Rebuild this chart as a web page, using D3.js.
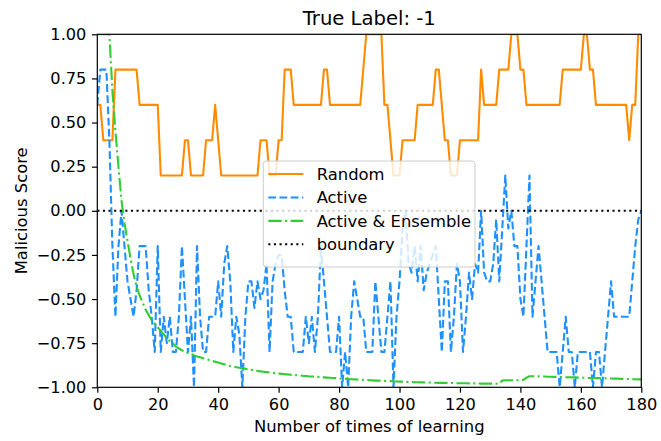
<!DOCTYPE html>
<html>
<head>
<meta charset="utf-8">
<script src="https://cdn.jsdelivr.net/npm/d3@7"></script>
<style>
html,body{margin:0;padding:0;background:#fff;}
svg{display:block;font-family:"DejaVu Sans",sans-serif;}
</style>
</head>
<body>
<svg id="chart" width="661" height="441"></svg>
<script>
const title = "True Label: -1";
const xLabel = "Number of times of learning";
const yLabel = "Malicious Score";
const xTicks = [0,20,40,60,80,100,120,140,160,180];
const yTicks = [-1,-0.75,-0.5,-0.25,0,0.25,0.5,0.75,1];
const seriesNames = ["Random","Active","Active & Ensemble","boundary"];

const randomScores = [
0.6,0.6,0.4,0.4,0.4,0.4,0.8,0.8,0.8,0.8,
0.8,0.8,0.8,0.8,0.6,0.6,0.6,0.6,0.6,0.6,
0.6,0.2,0.2,0.2,0.2,0.2,0.2,0.2,0.2,0.4,
0.4,0.2,0.2,0.2,0.2,0.2,0.4,0.4,0.4,0.6,
0.4,0.2,0.2,0.2,0.2,0.2,0.2,0.2,0.2,0.2,
0.2,0.2,0.2,0.2,0.4,0.4,0.4,0.2,0.2,0.2,
0.4,0.4,0.8,0.8,0.8,0.6,0.6,0.6,0.6,0.6,
0.6,0.6,0.6,0.6,0.6,0.8,0.8,0.6,0.6,0.6,
0.6,0.6,0.6,0.6,0.6,0.6,0.6,0.6,0.8,1.0,
1.0,1.0,1.0,1.0,1.0,0.6,0.6,0.4,0.2,0.2,
0.2,0.4,0.4,0.4,0.4,0.4,0.6,0.6,0.6,0.6,
0.6,0.6,0.8,0.8,0.6,0.4,0.4,0.2,0.2,0.2,
0.4,0.4,0.4,0.4,0.4,0.4,0.4,0.8,0.6,0.6,
0.6,0.6,0.6,0.8,0.8,0.8,0.8,1.0,1.0,1.0,
0.8,0.8,0.6,0.6,0.6,0.6,0.6,0.6,0.6,0.6,
0.6,0.6,0.6,0.6,0.8,0.8,0.8,0.8,0.8,0.8,
0.8,1.0,1.0,0.8,0.8,0.6,0.6,0.6,0.6,0.6,
0.6,0.6,0.6,0.6,0.6,0.6,0.4,0.6,0.6,1.0,
1.0];

const activeScores = [
0.6,0.8,0.8,0.8,0.4,-0.2,-0.6,-0.2,0.0,-0.2,
-0.4,-0.5,-0.6,-0.45,-0.2,-0.2,-0.2,-0.45,-0.6,-0.8,
-0.2,-0.8,-0.6,-0.75,-0.6,-0.8,-0.8,-0.6,-0.2,-0.5,
-0.8,-0.6,-1.0,-0.2,-0.6,-0.8,-0.8,-0.6,-0.6,-0.6,
-0.4,-0.6,-0.3,-0.2,-0.4,-0.8,-0.6,-0.7,-1.0,-0.6,
-0.4,-0.4,-0.55,-0.4,-0.5,-0.45,-0.3,-0.8,-0.4,-0.3,
-0.25,-0.25,-0.45,-0.6,-0.6,-0.8,-0.8,-0.8,-0.8,-0.6,
-0.75,-0.6,-0.8,-0.6,-0.2,-0.4,-0.6,-0.8,-0.8,-0.8,
-0.6,-1.0,-0.8,-1.0,-0.6,-0.4,-0.5,-0.6,-0.6,-0.8,
-0.8,-0.8,-0.4,-0.6,-0.8,-0.8,-0.6,-0.4,-1.0,-0.6,
-0.4,-0.1,0.0,-0.3,-0.35,-0.2,-0.4,-0.2,-0.45,-0.35,
-0.3,-0.25,-0.2,-0.5,-0.8,-0.4,-0.4,-0.8,-0.6,-0.3,
-0.4,-0.8,-0.6,-0.35,-0.5,-0.3,-0.35,0.0,-0.35,-0.4,
-0.4,-0.3,-0.05,-0.4,-0.1,0.2,-0.1,0.0,-0.2,-0.2,
-0.5,-0.6,-0.2,0.2,-0.6,-0.4,-0.2,-0.4,-0.6,-0.8,
-0.8,-0.8,-0.8,-1.0,-0.8,-0.6,-0.8,-0.8,-1.0,-0.8,
-0.8,-0.8,-0.8,-0.8,-1.0,-0.8,-0.8,-1.0,-0.8,-0.6,
-0.4,-0.6,-0.6,-0.6,-0.6,-0.6,-0.6,-0.4,-0.2,-0.05,
0.0];

const ensembleScores = [
1.0,1.0,1.0,1.0,1.0,0.68,0.45,0.25,0.06,-0.07,
-0.17,-0.27,-0.36,-0.43,-0.48,-0.52,-0.56,-0.59,-0.62,-0.64,
-0.66,-0.68,-0.70,-0.72,-0.74,-0.75,-0.77,-0.78,-0.79,-0.80,
-0.805,-0.81,-0.82,-0.825,-0.83,-0.835,-0.84,-0.845,-0.85,-0.855,
-0.86,-0.865,-0.87,-0.875,-0.88,-0.883,-0.886,-0.889,-0.892,-0.895,
-0.898,-0.901,-0.904,-0.907,-0.91,-0.912,-0.914,-0.916,-0.918,-0.92,
-0.922,-0.924,-0.926,-0.927,-0.929,-0.93,-0.932,-0.933,-0.935,-0.936,
-0.938,-0.939,-0.94,-0.941,-0.943,-0.944,-0.945,-0.946,-0.947,-0.948,
-0.95,-0.951,-0.952,-0.953,-0.954,-0.955,-0.956,-0.957,-0.958,-0.959,
-0.96,-0.961,-0.962,-0.962,-0.963,-0.964,-0.965,-0.965,-0.966,-0.967,
-0.968,-0.968,-0.969,-0.97,-0.97,-0.971,-0.971,-0.972,-0.972,-0.973,
-0.973,-0.974,-0.974,-0.975,-0.975,-0.975,-0.976,-0.976,-0.976,-0.977,
-0.977,-0.977,-0.977,-0.978,-0.978,-0.978,-0.978,-0.979,-0.979,-0.979,
-0.979,-0.979,-0.98,-0.98,-0.962,-0.96,-0.96,-0.96,-0.96,-0.96,
-0.96,-0.958,-0.945,-0.937,-0.937,-0.938,-0.938,-0.939,-0.939,-0.94,
-0.94,-0.941,-0.941,-0.942,-0.942,-0.943,-0.943,-0.944,-0.944,-0.945,
-0.945,-0.946,-0.946,-0.947,-0.947,-0.948,-0.948,-0.949,-0.949,-0.95,
-0.95,-0.951,-0.951,-0.952,-0.952,-0.953,-0.953,-0.954,-0.954,-0.955,
-0.955];

const boundaryValue = 0;

const W = 661, H = 441;
const m = {left: 97.3, right: 641.3, top: 34.3, bottom: 387.3};
const svg = d3.select("#chart");
const x = d3.scaleLinear().domain([0,180]).range([m.left, m.right]);
const y = d3.scaleLinear().domain([-1,1]).range([m.bottom, m.top]);
const tickFont = 16.2;
const labelFont = 16.4;

svg.append("defs").append("clipPath").attr("id","clip")
  .append("rect").attr("x",m.left).attr("y",m.top)
  .attr("width",m.right-m.left).attr("height",m.bottom-m.top);

const plot = svg.append("g").attr("clip-path","url(#clip)");
const line = d3.line().x((d,i)=>x(i)).y(d=>y(d));
const lw = 2.1;

const styles = [
  {data: randomScores, color: "#ff8c00", dash: null},
  {data: activeScores, color: "#1e90ff", dash: "7.8,3.4"},
  {data: ensembleScores, color: "#32cd32", dash: "13.4,3.4,2.1,3.4"}
];
styles.forEach(s => {
  plot.append("path").datum(s.data)
    .attr("d", line).attr("fill","none")
    .attr("stroke", s.color).attr("stroke-width", lw)
    .attr("stroke-linejoin","round")
    .attr("stroke-dasharray", s.dash);
});
plot.append("line")
  .attr("x1", x(0)).attr("x2", x(180))
  .attr("y1", y(boundaryValue)).attr("y2", y(boundaryValue))
  .attr("stroke","#000").attr("stroke-width", lw)
  .attr("stroke-dasharray","2.1,3.5");

// axes
const xAxis = d3.axisBottom(x).tickValues(xTicks).tickSize(5.4).tickPadding(6).tickFormat(d3.format("d"));
const yAxis = d3.axisLeft(y).tickValues(yTicks).tickSize(5.4).tickPadding(5.5)
  .tickFormat(d => d3.format(".2f")(d).replace("-", "\u2212"));
const gx = svg.append("g").attr("transform",`translate(0,${m.bottom})`).call(xAxis);
const gy = svg.append("g").attr("transform",`translate(${m.left},0)`).call(yAxis);
[gx, gy].forEach(g => {
  g.select(".domain").remove();
  g.selectAll("text").attr("font-size", tickFont).attr("font-family","DejaVu Sans").attr("fill","#000");
  g.selectAll("line").attr("stroke","#000").attr("stroke-width",1.2);
});

// frame
svg.append("rect").attr("x",m.left).attr("y",m.top)
  .attr("width",m.right-m.left).attr("height",m.bottom-m.top)
  .attr("fill","none").attr("stroke","#000").attr("stroke-width",1.2);

// title & labels
svg.append("text").attr("x",(m.left+m.right)/2).attr("y",25)
  .attr("text-anchor","middle").attr("font-size",19.6).text(title);
svg.append("text").attr("x",(m.left+m.right)/2).attr("y",432)
  .attr("text-anchor","middle").attr("font-size",labelFont).text(xLabel);
svg.append("text").attr("transform",`translate(26.5,${(m.top+m.bottom)/2}) rotate(-90)`)
  .attr("text-anchor","middle").attr("font-size",labelFont).text(yLabel);

// legend
const lg = svg.append("g");
lg.append("rect").attr("x",263.3).attr("y",161).attr("width",211.7).attr("height",106)
  .attr("rx",3).attr("fill","#fff").attr("fill-opacity",0.8)
  .attr("stroke","#cccccc").attr("stroke-width",1);
const legendItems = [
  {name: seriesNames[0], color:"#ff8c00", dash:null},
  {name: seriesNames[1], color:"#1e90ff", dash:"7.8,3.4"},
  {name: seriesNames[2], color:"#32cd32", dash:"13.4,3.4,2.1,3.4"},
  {name: seriesNames[3], color:"#000", dash:"2.1,3.5"}
];
const rowY = d3.scaleLinear().domain([0,3]).range([174,244.3]);
legendItems.forEach((it,i) => {
  lg.append("line").attr("x1",268.3).attr("x2",303.3)
    .attr("y1",rowY(i)).attr("y2",rowY(i))
    .attr("stroke",it.color).attr("stroke-width",lw)
    .attr("stroke-dasharray",it.dash);
  lg.append("text").attr("x",316.7).attr("y",rowY(i)+6)
    .attr("font-size",labelFont).text(it.name);
});
</script>
</body>
</html>
